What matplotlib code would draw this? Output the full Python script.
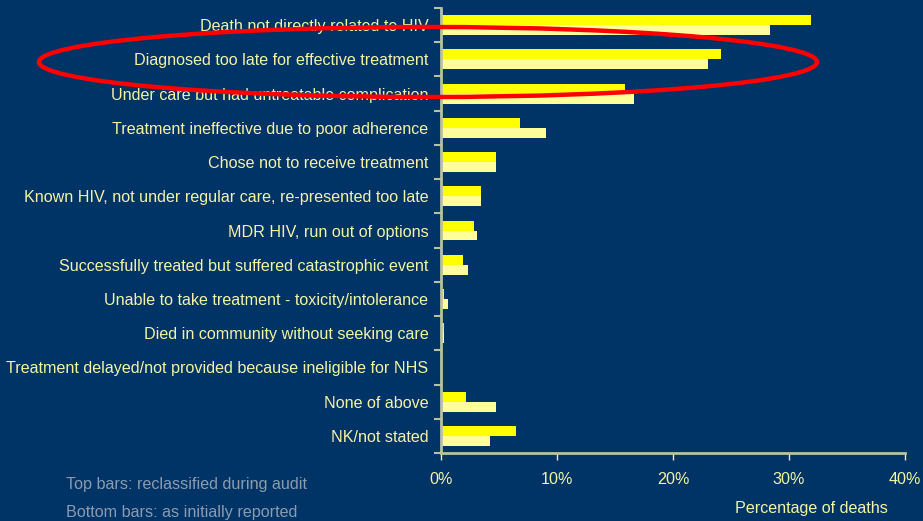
import numpy as np
import matplotlib.pyplot as plt
from matplotlib.patches import Ellipse

causes = [
    "Death not directly related to HIV",
    "Diagnosed too late for effective treatment",
    "Under care but had untreatable complication",
    "Treatment ineffective due to poor adherence",
    "Chose not to receive treatment",
    "Known HIV, not under regular care, re-presented too late",
    "MDR HIV, run out of options",
    "Successfully treated but suffered catastrophic event",
    "Unable to take treatment - toxicity/intolerance",
    "Died in community without seeking care",
    "Treatment delayed/not provided because ineligible for NHS",
    "None of above",
    "NK/not stated",
]
reclassified = [31.9, 24.1, 15.9, 6.8, 4.7, 3.45, 2.85, 1.9, 0.26, 0.26, 0, 2.15, 6.5]
initial = [28.4, 23.0, 16.6, 9.05, 4.7, 3.45, 3.1, 2.3, 0.6, 0.26, 0, 4.7, 4.2]

bg = "#003366"
txt = "#f4f4a4"
axc = "#b9c2a0"
fs = 11.6

plt.rcParams["font.family"] = ["Liberation Sans", "DejaVu Sans"]
fig = plt.figure(figsize=(9.23, 5.21), dpi=100, facecolor=bg)
ax = fig.add_axes([441 / 923, 1 - 453 / 521, 464 / 923, 445 / 521])
ax.set_facecolor(bg)

y = np.arange(len(causes))
h = 0.29
ax.barh(y - h / 2, reclassified, height=h, color="#ffff00")
ax.barh(y + h / 2, initial, height=h, color="#ffff99")

ax.set_xlim(0, 40)
ax.set_ylim(len(causes) - 0.5, -0.5)
ax.set_xticks([0, 10, 20, 30, 40])
ax.set_xticklabels([f"{v}%" for v in [0, 10, 20, 30, 40]])
ax.set_yticks(y)
ax.set_yticklabels(causes)
ax.set_yticks(np.arange(-0.5, len(causes)), minor=True)
ax.tick_params(axis="y", which="major", length=0, pad=9, colors=txt, labelsize=fs)
ax.tick_params(axis="y", which="minor", length=5, color=axc, width=1.5)
ax.tick_params(axis="x", length=5, color=txt, width=1, pad=9, labelcolor=txt, labelsize=fs)

for s in ["top", "right"]:
    ax.spines[s].set_visible(False)
for s in ["left", "bottom"]:
    ax.spines[s].set_color(axc)
    ax.spines[s].set_linewidth(2)

fig.text(888 / 923, 1 - 508 / 521, "Percentage of deaths", ha="right", va="center",
         color=txt, fontsize=fs)
fig.text(66 / 923, 1 - 485 / 521, "Top bars: reclassified during audit", ha="left",
         va="center", color="#8c9cb0", fontsize=fs)
fig.text(66 / 923, 1 - 513 / 521, "Bottom bars: as initially reported", ha="left",
         va="center", color="#8c9cb0", fontsize=fs)

# red highlight ring around the second cause
over = fig.add_axes([0, 0, 1, 1], facecolor="none")
over.set_xlim(0, 923)
over.set_ylim(521, 0)
over.axis("off")
over.add_patch(Ellipse((428, 62), 778, 70, fill=False, edgecolor="#ff0000", linewidth=3.2))

fig.savefig("out.png", dpi=100, facecolor=bg)
